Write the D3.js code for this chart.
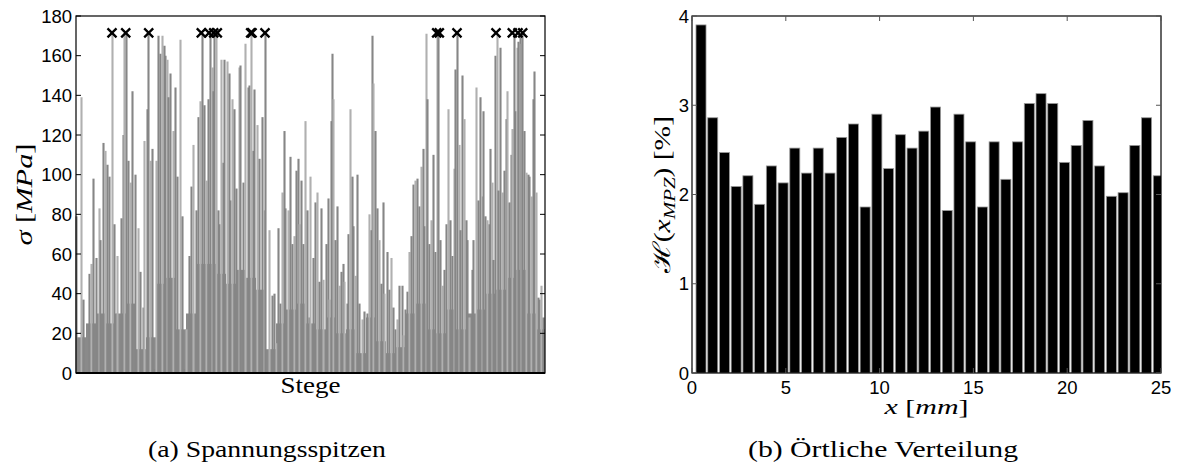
<!DOCTYPE html>
<meta charset="utf-8">
<script src="https://d3js.org/d3.v7.min.js"></script>
<style>
body { margin: 0; background: #fff; }
text.tick { font: 18.5px "Liberation Sans", Arial, sans-serif; fill: #000; }
text.tex { font-family: "Liberation Serif", "Times New Roman", serif; fill: #000; }
</style>
<body>
<script>

// left plot: stress peaks per web ("Stege"), [position, sigma in MPa]
var peaks = [
  [0,79],[5,139],[7,37],[13,50],[15,55],[17,98],[20,58],[23,83],[24,67],[27,116],
  [29,112],[31,105],[33,99],[36,171],[38,75],[39,30],[41,59],[45,78],[47,120],[48,171],
  [50,171],[52,107],[54,96],[56,142],[59,100],[62,73],[64,51],[67,33],[68,117],[71,133],
  [72,171],[74,107],[76,113],[78,2],[80,107],[82,170],[84,161],[86,170],[88,165],[89,160],
  [91,158],[92,139],[94,151],[97,122],[99,144],[101,99],[104,168],[106,79],[108,2],[110,22],
  [113,59],[115,94],[117,115],[120,82],[122,129],[124,137],[126,171],[128,135],[130,97],[132,138],
  [134,171],[136,154],[137,142],[138,171],[140,171],[142,82],[143,75],[145,158],[147,106],[148,158],
  [151,157],[153,151],[154,87],[156,138],[158,133],[160,93],[163,154],[164,155],[167,96],[169,166],
  [172,144],[173,145],[175,171],[177,112],[178,143],[181,125],[183,108],[186,129],[188,82],[189,171],
  [192,1],[193,72],[196,39],[198,40],[200,15],[202,73],[204,35],[206,91],[208,122],[209,83],
  [212,82],[214,109],[216,65],[218,69],[220,102],[222,108],[223,75],[225,97],[227,65],[229,127],
  [231,82],[233,28],[234,99],[237,58],[239,86],[241,91],[243,46],[245,83],[247,47],[250,65],
  [252,88],[253,37],[255,127],[256,161],[257,138],[259,67],[261,84],[263,44],[265,51],[267,55],
  [268,46],[271,35],[272,70],[274,133],[276,99],[277,74],[279,49],[281,100],[283,35],[286,27],
  [288,31],[291,30],[293,80],[295,72],[296,170],[297,146],[299,122],[301,83],[303,67],[305,45],
  [307,86],[308,40],[311,61],[313,42],[315,58],[317,33],[319,22],[321,27],[323,44],[326,44],
  [327,19],[329,32],[331,41],[333,61],[335,69],[337,95],[339,97],[341,98],[343,84],[345,104],
  [347,113],[348,74],[350,171],[351,138],[353,65],[355,77],[357,110],[359,61],[361,171],[362,171],
  [364,67],[366,44],[368,52],[370,75],[372,133],[374,77],[376,59],[378,103],[379,153],[381,171],
  [383,115],[384,72],[386,150],[388,128],[390,77],[391,67],[393,28],[396,52],[397,67],[400,144],
  [402,87],[404,139],[406,89],[407,132],[409,79],[411,77],[413,75],[414,113],[416,96],[417,57],
  [419,160],[421,171],[422,92],[424,164],[426,91],[428,102],[430,128],[431,142],[433,86],[435,110],
  [436,123],[438,171],[439,132],[441,164],[442,167],[444,171],[445,166],[446,171],[448,122],[450,101],
  [452,100],[453,99],[455,89],[457,138],[458,152],[460,91],[462,38],[463,37],[465,44],[467,28]
];

// dense low level of the stress field, one value per 10 positions
var floorSigma = [18, 25, 30, 25, 30, 35, 12, 18, 45, 48, 22, 30, 55, 55, 50, 45, 52, 48, 42, 12,
  25, 32, 35, 25, 22, 28, 20, 22, 10, 28, 16, 10, 13, 30, 35, 22, 20, 32, 22, 30, 32, 40, 42, 48,
  52, 30, 22];

// peaks marked with a cross
var markerPos = [36, 49.7, 72.7, 125.3, 133, 137.7, 141.3, 174.7, 176, 189,
  360.7, 363.3, 381, 420, 436.3, 442, 446.7];
var markerSigma = 171.5;

var sigmaTicks = [0, 20, 40, 60, 80, 100, 120, 140, 160, 180];

// right plot: histogram of peak location
var binWidth = 0.625;
var binOffset = 0.48;
var hValues = [3.90, 2.86, 2.47, 2.09, 2.21, 1.89, 2.32, 2.13, 2.52, 2.24,
  2.52, 2.24, 2.64, 2.79, 1.86, 2.90, 2.29, 2.67, 2.52, 2.71,
  2.98, 1.82, 2.90, 2.59, 1.86, 2.59, 2.17, 2.59, 3.02, 3.13,
  3.02, 2.36, 2.55, 2.83, 2.32, 1.98, 2.02, 2.55, 2.86, 2.21];
var hTicks = [0, 1, 2, 3, 4];
var xTicks = [0, 5, 10, 15, 20, 25];

var W = 1188, H = 472;
var svg = d3.select("body").append("svg")
    .attr("width", W)
    .attr("height", H);

var tickLen = 5;

// ---------- left plot ----------
var L = {x0: 76, x1: 545, y0: 16, y1: 373};
var xs = d3.scaleLinear().domain([0, 469]).range([L.x0, L.x1]);
var ys = d3.scaleLinear().domain([0, 180]).range([L.y1, L.y0]);

var left = svg.append("g");

left.append("g").selectAll("rect")
    .data(floorSigma)
  .enter().append("rect")
    .attr("x", function(d, i) { return xs(i * 10); })
    .attr("width", function(d, i) { return Math.min(xs(i * 10 + 10), L.x1) - xs(i * 10); })
    .attr("y", function(d) { return ys(d); })
    .attr("height", function(d) { return L.y1 - ys(d); })
    .style("fill", "#8a8a8a");

left.append("g").selectAll("line")
    .data(peaks)
  .enter().append("line")
    .attr("x1", function(d) { return xs(d[0]) + 0.5; })
    .attr("x2", function(d) { return xs(d[0]) + 0.5; })
    .attr("y1", L.y1)
    .attr("y2", function(d) { return ys(d[1]); })
    .style("stroke", function(d, i) { return i % 3 == 1 ? "#b0b0b0" : "#868686"; })
    .style("stroke-width", 2.1);

left.append("g").selectAll("path")
    .data(markerPos)
  .enter().append("path")
    .attr("d", function(d) {
        var x = xs(d), y = ys(markerSigma), s = 4.5;
        return "M" + (x - s) + "," + (y - s) + "L" + (x + s) + "," + (y + s) +
               "M" + (x - s) + "," + (y + s) + "L" + (x + s) + "," + (y - s);
    })
    .style("stroke", "#000")
    .style("stroke-width", 2.3)
    .style("fill", "none");

// frame + ticks
left.append("rect")
    .attr("x", L.x0).attr("y", L.y0)
    .attr("width", L.x1 - L.x0).attr("height", L.y1 - L.y0)
    .style("fill", "none").style("stroke", "#000").style("stroke-width", 1.2);
left.append("line")
    .attr("x1", L.x0).attr("x2", L.x1).attr("y1", L.y1).attr("y2", L.y1)
    .style("stroke", "#000").style("stroke-width", 2);

left.append("g").selectAll("path")
    .data(sigmaTicks)
  .enter().append("path")
    .attr("d", function(d) {
        var y = ys(d);
        return "M" + L.x0 + "," + y + "h" + tickLen + "M" + L.x1 + "," + y + "h" + (-tickLen);
    })
    .style("stroke", "#000").style("stroke-width", 1);

left.append("g").selectAll("text")
    .data(sigmaTicks)
  .enter().append("text")
    .attr("class", "tick")
    .attr("x", L.x0 - 4)
    .attr("y", function(d) { return ys(d); })
    .attr("dy", "0.36em")
    .attr("text-anchor", "end")
    .text(function(d) { return d; });

var ylab = left.append("text")
    .attr("class", "tex")
    .attr("transform", "translate(32," + ((L.y0 + L.y1) / 2) + ") rotate(-90)")
    .attr("text-anchor", "middle")
    .attr("textLength", 102)
    .attr("lengthAdjust", "spacingAndGlyphs")
    .style("font-size", "24px");
ylab.append("tspan").style("font-style", "italic").text("σ");
ylab.append("tspan").text(" [");
ylab.append("tspan").style("font-style", "italic").text("MPa");
ylab.append("tspan").text("]");

left.append("text")
    .attr("class", "tex")
    .attr("x", (L.x0 + L.x1) / 2)
    .attr("y", 393)
    .attr("text-anchor", "middle")
    .attr("textLength", 60)
    .attr("lengthAdjust", "spacingAndGlyphs")
    .style("font-size", "24px")
    .text("Stege");

// ---------- right plot ----------
var R = {x0: 692, x1: 1161, y0: 16, y1: 373};
var xr = d3.scaleLinear().domain([0, 25]).range([R.x0, R.x1]);
var yr = d3.scaleLinear().domain([0, 4]).range([R.y1, R.y0]);

var right = svg.append("g");

right.append("clipPath").attr("id", "clipR")
  .append("rect")
    .attr("x", R.x0).attr("y", R.y0)
    .attr("width", R.x1 - R.x0).attr("height", R.y1 - R.y0);

var barW = xr(binWidth) - xr(0) - 1.7;
right.append("g").attr("clip-path", "url(#clipR)")
  .selectAll("rect")
    .data(hValues)
  .enter().append("rect")
    .attr("x", function(d, i) { return xr(binOffset + i * binWidth) - barW / 2; })
    .attr("width", barW)
    .attr("y", function(d) { return yr(d); })
    .attr("height", function(d) { return R.y1 - yr(d); })
    .style("fill", "#000")
    .style("stroke", "#999")
    .style("stroke-width", 0.8);

right.append("rect")
    .attr("x", R.x0).attr("y", R.y0)
    .attr("width", R.x1 - R.x0).attr("height", R.y1 - R.y0)
    .style("fill", "none").style("stroke", "#000").style("stroke-width", 1.2);

right.append("g").selectAll("path")
    .data(hTicks)
  .enter().append("path")
    .attr("d", function(d) {
        var y = yr(d);
        return "M" + R.x0 + "," + y + "h" + tickLen + "M" + R.x1 + "," + y + "h" + (-tickLen);
    })
    .style("stroke", "#555").style("stroke-width", 1);

right.append("g").selectAll("path")
    .data(xTicks)
  .enter().append("path")
    .attr("d", function(d) {
        var x = xr(d);
        return "M" + x + "," + R.y0 + "v" + tickLen + "M" + x + "," + R.y1 + "v" + (-tickLen);
    })
    .style("stroke", "#555").style("stroke-width", 1);

right.append("g").selectAll("text")
    .data(hTicks)
  .enter().append("text")
    .attr("class", "tick")
    .attr("x", R.x0 - 3)
    .attr("y", function(d) { return yr(d); })
    .attr("dy", "0.36em")
    .attr("text-anchor", "end")
    .text(function(d) { return d; });

right.append("g").selectAll("text")
    .data(xTicks)
  .enter().append("text")
    .attr("class", "tick")
    .attr("x", function(d) { return xr(d); })
    .attr("y", 394)
    .attr("text-anchor", "middle")
    .text(function(d) { return d; });

var hlab = right.append("text")
    .attr("class", "tex")
    .attr("transform", "translate(670," + ((R.y0 + R.y1) / 2) + ") rotate(-90)")
    .attr("text-anchor", "middle")
    .attr("textLength", 157)
    .attr("lengthAdjust", "spacingAndGlyphs")
    .style("font-size", "24px");
hlab.append("tspan").text("ℋ(");
hlab.append("tspan").style("font-style", "italic").text("x");
hlab.append("tspan").style("font-style", "italic").style("font-size", "17px").attr("dy", 5).text("MPZ");
hlab.append("tspan").attr("dy", -5).text(") [%]");

var xlab = right.append("text")
    .attr("class", "tex")
    .attr("x", (R.x0 + R.x1) / 2)
    .attr("y", 414)
    .attr("text-anchor", "middle")
    .attr("textLength", 84)
    .attr("lengthAdjust", "spacingAndGlyphs")
    .style("font-size", "22px");
xlab.append("tspan").style("font-style", "italic").text("x");
xlab.append("tspan").text(" [");
xlab.append("tspan").style("font-style", "italic").text("mm");
xlab.append("tspan").text("]");

// ---------- captions ----------
svg.append("text")
    .attr("class", "tex")
    .attr("x", 267)
    .attr("y", 457)
    .attr("text-anchor", "middle")
    .attr("textLength", 238)
    .attr("lengthAdjust", "spacingAndGlyphs")
    .style("font-size", "24px")
    .text("(a) Spannungsspitzen");

svg.append("text")
    .attr("class", "tex")
    .attr("x", 883)
    .attr("y", 457)
    .attr("text-anchor", "middle")
    .attr("textLength", 270)
    .attr("lengthAdjust", "spacingAndGlyphs")
    .style("font-size", "24px")
    .text("(b) Örtliche Verteilung");

</script>
</body>
